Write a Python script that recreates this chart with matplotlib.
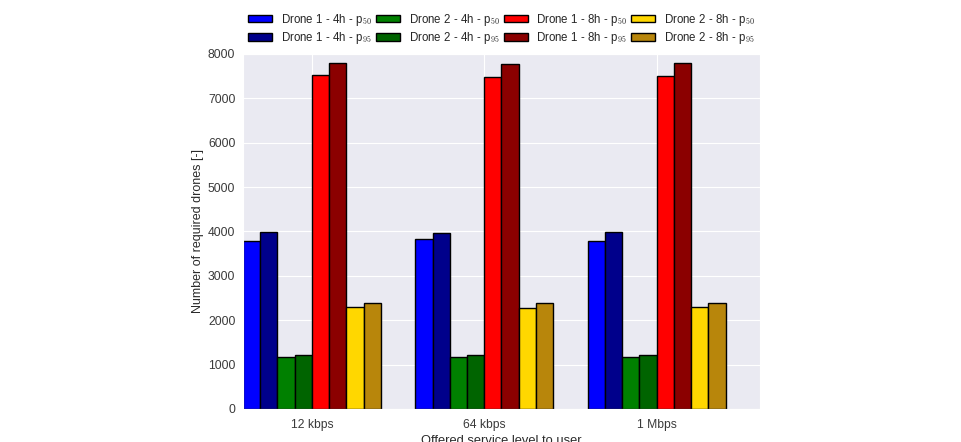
import numpy as np
import matplotlib
matplotlib.use('Agg')
import matplotlib.pyplot as plt
import seaborn as sns

# Service levels (x groups)
levels = ['12 kbps', '64 kbps', '1 Mbps']

# Required drones per series, one value per service level
d1_4h_p50 = [3790, 3830, 3780]
d1_4h_p95 = [3980, 3975, 3980]
d2_4h_p50 = [1165, 1160, 1165]
d2_4h_p95 = [1215, 1215, 1215]
d1_8h_p50 = [7520, 7470, 7495]
d1_8h_p95 = [7800, 7775, 7790]
d2_8h_p50 = [2290, 2275, 2290]
d2_8h_p95 = [2385, 2385, 2385]

labels = [r'Drone 1 - 4h - p$_{50}$', r'Drone 1 - 4h - p$_{95}$',
          r'Drone 2 - 4h - p$_{50}$', r'Drone 2 - 4h - p$_{95}$',
          r'Drone 1 - 8h - p$_{50}$', r'Drone 1 - 8h - p$_{95}$',
          r'Drone 2 - 8h - p$_{50}$', r'Drone 2 - 8h - p$_{95}$']
series = [d1_4h_p50, d1_4h_p95, d2_4h_p50, d2_4h_p95,
          d1_8h_p50, d1_8h_p95, d2_8h_p50, d2_8h_p95]
colors = ['#0000FF', '#00008B', '#008000', '#006400',
          '#FF0000', '#8B0000', '#FFD700', '#B8860B']

sns.set_style('darkgrid')
plt.rcParams['font.family'] = ['Liberation Sans', 'DejaVu Sans']
plt.rcParams['mathtext.fontset'] = 'cm'

fig = plt.figure(figsize=(9.62, 4.42), dpi=100)
ax = fig.add_axes([0.2526, 0.0747, 0.790 - 0.2526, 0.878 - 0.0747])

x = np.arange(len(levels))
width = 0.1
for i, (vals, lab, col) in enumerate(zip(series, labels, colors)):
  ax.bar(x - 0.4 + width * i, vals, width, align='edge', color=col,
         edgecolor='black', linewidth=1.0, label=lab)

ax.set_xlim(-0.4, 2.6)
ax.set_ylim(0, 8000)
ax.set_xticks(x)
ax.set_xticklabels(levels)
ax.set_yticks(np.arange(0, 8001, 1000))
ax.tick_params(labelsize=8.7, colors='#3a3a3a')
ax.tick_params(axis='y', pad=2)
ax.set_xlabel('Offered service level to user', fontsize=9.3, color='#2a2a2a',
              labelpad=3)
ax.set_ylabel('Number of required drones [-]', fontsize=9, color='#2a2a2a',
              labelpad=3)

ax.legend(loc='lower center', bbox_to_anchor=(0.5, 1.0), ncol=4,
          frameon=False, fontsize=8.3, handlelength=2.1, handleheight=0.65,
          columnspacing=0.35, handletextpad=0.75, labelspacing=0.2,
          borderaxespad=0.3)

fig.savefig('out.png', dpi=100)
